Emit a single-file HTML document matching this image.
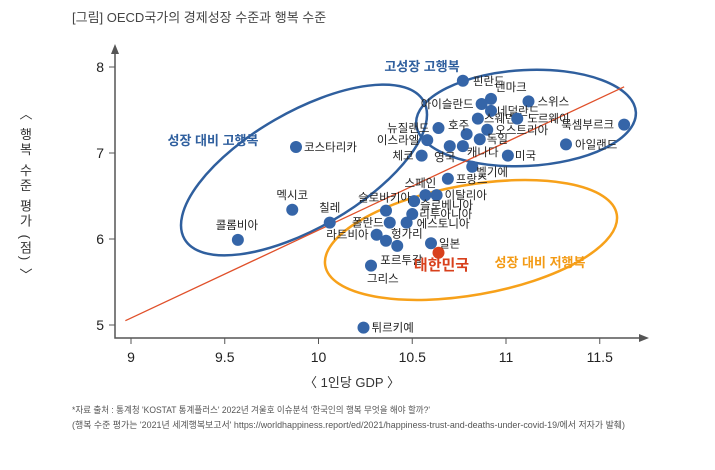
<!DOCTYPE html>
<html><head><meta charset="utf-8"><style>
body{margin:0;background:#fff;}
svg{display:block;font-family:"Liberation Sans","Noto Sans CJK KR",sans-serif;}
</style></head><body>
<svg id="chart" width="715" height="470" viewBox="0 0 715 470">
<text x="72" y="22" font-size="13" fill="#444">[그림] OECD국가의 경제성장 수준과 행복 수준</text>
<text x="25" y="195" font-size="13" fill="#333" writing-mode="tb" glyph-orientation-vertical="0" text-anchor="middle" letter-spacing="2">〈 행복 수준 평가 (점) 〉</text>
<text x="352" y="387" font-size="13" fill="#333" text-anchor="middle">〈 1인당 GDP 〉</text>
<text x="72" y="413" font-size="9" fill="#555" textLength="358" lengthAdjust="spacingAndGlyphs">*자료 출처 : 통계청 'KOSTAT 통계플러스' 2022년 겨울호 이슈분석 '한국인의 행복 무엇을 해야 할까?'</text>
<text x="72" y="428" font-size="9" fill="#555" textLength="553" lengthAdjust="spacingAndGlyphs">(행복 수준 평가는 '2021년 세계행복보고서' https://worldhappiness.report/ed/2021/happiness-trust-and-deaths-under-covid-19/에서 저자가 발췌)</text>
<g id="plot"></g>
</svg>
<script>
const countries=["핀란드","덴마크","아이슬란드","스위스","네덜란드","스웨덴","노르웨이","룩셈부르크","뉴질랜드","호주","오스트리아","이스라엘","독일","아일랜드","영국","캐나다","체코","미국","벨기에","프랑스","스페인","이탈리아","슬로베니아","슬로바키아","리투아니아","에스토니아","폴란드","라트비아","헝가리","포르투갈","일본","대한민국","그리스","코스타리카","멕시코","칠레","콜롬비아","튀르키예"];
const gdp=[10.77,10.92,10.87,11.12,10.92,10.85,11.06,11.63,10.64,10.79,10.90,10.58,10.86,11.32,10.70,10.77,10.55,11.01,10.82,10.69,10.57,10.63,10.51,10.36,10.50,10.47,10.38,10.31,10.36,10.42,10.60,10.64,10.28,9.88,9.86,10.06,9.57,10.24];
const happiness=[7.84,7.63,7.57,7.60,7.49,7.40,7.40,7.33,7.29,7.22,7.27,7.15,7.16,7.10,7.08,7.08,6.97,6.97,6.84,6.70,6.51,6.51,6.44,6.33,6.29,6.19,6.19,6.05,5.98,5.92,5.95,5.84,5.69,7.07,6.34,6.19,5.99,4.97];
const xTicks=[9,9.5,10,10.5,11,11.5];
const yTicks=[5,6,7,8];
const trendX=[8.97,11.63];
const trendY=[5.05,7.77];
const lab=[[10,4,"start"],[4,-8,"start"],[-8,4,"end"],[9,4,"start"],[6,4,"start"],[6,4,"start"],[10,4,"start"],[-10,4,"end"],[-9,4,"end"],[-8,-5,"middle"],[8,4,"start"],[-8,4,"end"],[7,4,"start"],[9,4,"start"],[-5,15,"middle"],[4,10,"start"],[-8,4,"end"],[7,4,"start"],[4,9,"start"],[8,4,"start"],[-5,-8,"middle"],[8,4,"start"],[6,8,"start"],[25,-9,"end"],[7,4,"start"],[10,5,"start"],[-6,4,"end"],[-8,4,"end"],[5,-3,"start"],[-17,18,"start"],[8,4,"start"],[3,17,"middle"],[-4,17,"start"],[8,4,"start"],[0,-11,"middle"],[0,-11,"middle"],[-1,-11,"middle"],[8,4,"start"]];
const X=v=>131+(v-9)*187.5;
const Y=v=>325-(v-5)*86;
const NS="http://www.w3.org/2000/svg";
const g=document.getElementById('plot');
function mk(t,a,p){const e=document.createElementNS(NS,t);for(const k in a)e.setAttribute(k,a[k]);(p||g).appendChild(e);return e;}
let ax=mk('path',{d:'M115 52 V338 H640',stroke:'#555','stroke-width':1.5,fill:'none'});


let ay=mk('path',{d:'M115 44 L111 54 L119 54 Z M649 338 L639 334 L639 342 Z',fill:'#555'});


xTicks.forEach(v=>{
 mk('line',{x1:X(v),x2:X(v),y1:338,y2:344,stroke:'#555','stroke-width':1});
 const t=mk('text',{x:X(v),y:362,'font-size':14,fill:'#222','text-anchor':'middle'});t.textContent=v;
 
 
});
yTicks.forEach(v=>{
 mk('line',{x1:109,x2:115,y1:Y(v),y2:Y(v),stroke:'#555','stroke-width':1});
 const t=mk('text',{x:104,y:Y(v)+5,'font-size':14,fill:'#222','text-anchor':'end'});t.textContent=v;
 
 
});
let e1=mk('ellipse',{cx:526,cy:118,rx:110,ry:48,transform:'rotate(-3 526 118)',fill:'none',stroke:'#2f5f9e','stroke-width':2.5});


let e2=mk('ellipse',{cx:304,cy:170,rx:138,ry:58,transform:'rotate(-30 304 170)',fill:'none',stroke:'#2f5f9e','stroke-width':2.5});


let e3=mk('ellipse',{cx:471,cy:240,rx:148,ry:55,transform:'rotate(-10 471 240)',fill:'none',stroke:'#f7a11a','stroke-width':2.5});


let tl=mk('line',{x1:X(trendX[0]),y1:Y(trendY[0]),x2:X(trendX[1]),y2:Y(trendY[1]),stroke:'#e0502a','stroke-width':1.3});


countries.forEach((c,i)=>{
 const kr=c==="대한민국";
 const p=mk('circle',{cx:X(gdp[i]),cy:Y(happiness[i]),r:6,fill:kr?'#d8401c':'#3565a8'});
 
 
 const t=mk('text',{x:X(gdp[i])+lab[i][0],y:Y(happiness[i])+lab[i][1],'font-size':kr?15:11.5,fill:kr?'#d8401c':'#222','text-anchor':lab[i][2],'font-weight':kr?'bold':'normal'});
 t.textContent=c;
 
 
});
[[422,71,'고성장 고행복','#2f5f9e','group-label-high-high'],[213,145,'성장 대비 고행복','#2f5f9e','group-label-high-happiness'],[540,267,'성장 대비 저행복','#f39a14','group-label-low-happiness']].forEach(a=>{
 const t=mk('text',{x:a[0],y:a[1],'font-size':13,'font-weight':'bold',fill:a[3],'text-anchor':'middle'});t.textContent=a[2];
 
 
});
</script>
</body></html>
